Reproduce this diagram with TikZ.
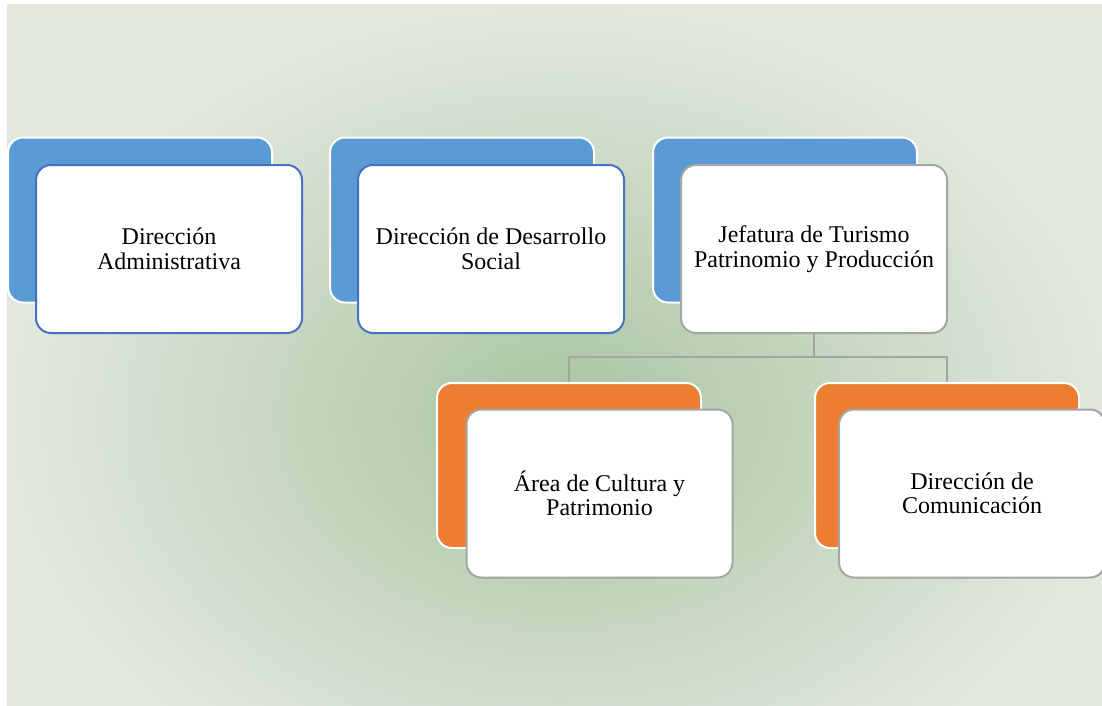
\documentclass[tikz,border=0pt]{standalone}
\usepackage{fontspec}
\setmainfont{Liberation Serif}
\usetikzlibrary{positioning}

\definecolor{bgin}{HTML}{A9C4A1}
\definecolor{bgout}{HTML}{E2E8DE}
\definecolor{azul}{HTML}{5B9BD5}
\definecolor{azulborde}{HTML}{4472C4}
\definecolor{naranja}{HTML}{ED7D31}
\definecolor{gris}{HTML}{A5A5A5}

\tikzset{
  fondo/.style={draw=white, line width=2pt, rounded corners=15pt,
    minimum width=264pt, minimum height=165pt, inner sep=0pt},
  tarjeta/.style={draw=#1, fill=white, line width=2pt, rounded corners=15pt,
    minimum width=266pt, minimum height=168pt, align=center,
    font=\fontsize{24}{24.5}\selectfont},
  enlace/.style={draw=gris, line width=2pt}
}

\begin{document}
\begin{tikzpicture}[x=1pt,y=-1pt]
		\useasboundingbox (0,0) rectangle (1102,706);
		\begin{scope}
			\clip (7,5) rectangle (1102,706);
			\shade[inner color=bgin, outer color=bgout] (7,5) rectangle (1113,831);
		\end{scope}

		% fila superior
		\foreach \n/\x in {1/140, 2/462, 3/785}
			\node[fondo, fill=azul] (b\n) at (\x,220) {};
		\node[tarjeta=azulborde] (f1) at (169,249) {Dirección\\Administrativa};
		\node[tarjeta=azulborde] (f2) at (491,249) {Dirección de Desarrollo\\Social};

		% conectores
		\coordinate (c0) at (814,357);
		\coordinate (c1) at (569,357);
		\coordinate (c2) at (947,357);
		\node[fondo, fill=naranja] (b4) at (569,465.5) {};
		\node[fondo, fill=naranja] (b5) at (947,465.5) {};
		\draw[enlace] (b4.north) -- (c1) -- (c2) -- (b5.north);

		\node[tarjeta=gris] (f3) at (814,249) {Jefatura de Turismo\\Patrinomio y Producción};
		\draw[enlace] (f3.south) -- (c0);

		% fila inferior
		\node[tarjeta=gris] (f4) at (599.5,493.5) {Área de Cultura y\\Patrimonio};
		\node[tarjeta=gris] (f5) at (972,493.5) {Dirección de\\Comunicación};
	\end{tikzpicture}
\end{document}
